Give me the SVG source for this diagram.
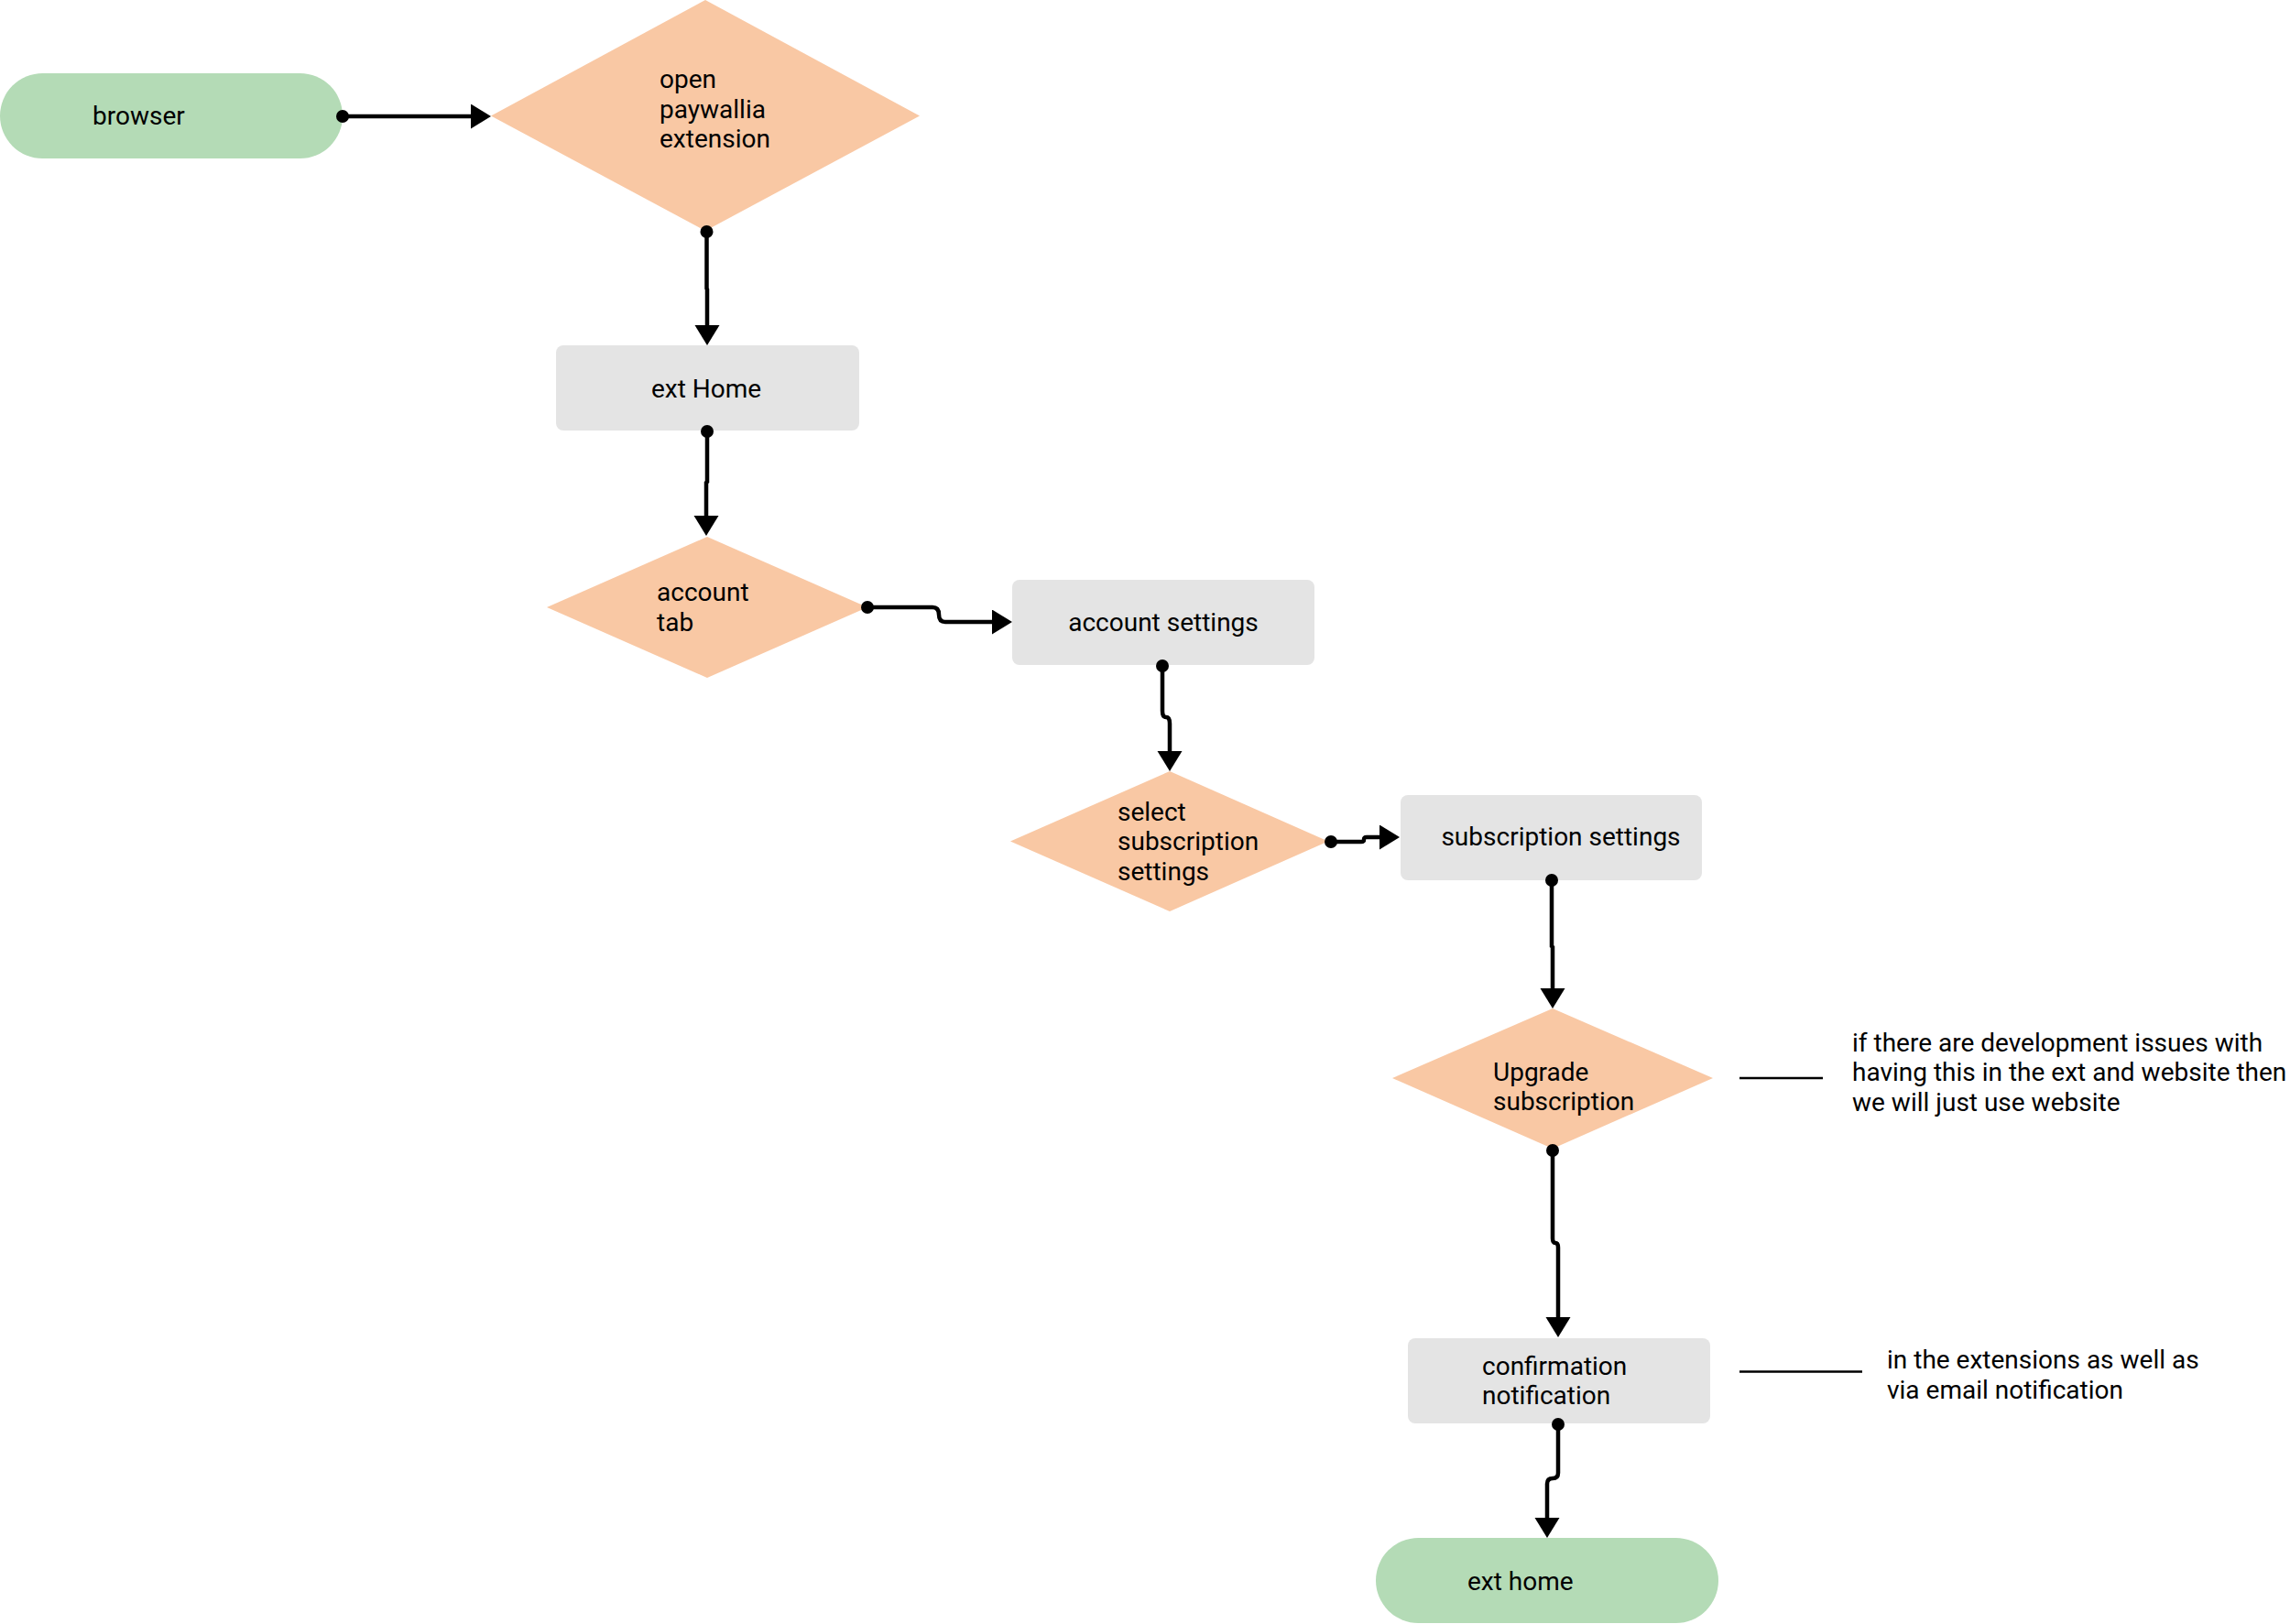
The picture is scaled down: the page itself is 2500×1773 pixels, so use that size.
<svg xmlns="http://www.w3.org/2000/svg" width="2500" height="1773" viewBox="0 0 2500 1773">
<style>
text{font-family:Roboto,"Liberation Sans",sans-serif;font-size:28px;fill:#000}
.c{text-anchor:middle}
.term{fill:#b4dbb6}
.dec{fill:#f9c8a4}
.proc{fill:#e4e4e4}
.conn{fill:none;stroke:#000;stroke-width:4.5;marker-start:url(#dot);marker-end:url(#arr)}
.note{stroke:#000;stroke-width:2.5}
</style>
<defs>
<marker id="arr" markerUnits="userSpaceOnUse" markerWidth="24" markerHeight="28" refX="2" refY="13.5" orient="auto">
<path d="M0,0 L22,13.5 L0,27 z" fill="#000"/>
</marker>
<marker id="dot" markerUnits="userSpaceOnUse" markerWidth="16" markerHeight="16" refX="8" refY="8" orient="auto">
<circle cx="8" cy="8" r="7" fill="#000"/>
</marker>
</defs>
<rect width="2500" height="1773" fill="#fff"/>

<g id="browser">
<rect class="term" x="0" y="80" width="374" height="93" rx="46.5"/>
<text x="101" y="136">browser</text>
</g>
<g id="open-paywallia">
<polygon class="dec" points="770,0 1004,126.5 770,252 536,126.5"/>
<text x="720" y="96">open</text>
<text x="720" y="128.5">paywallia</text>
<text x="720" y="161">extension</text>
</g>
<g id="ext-home-1">
<rect class="proc" x="607" y="377" width="331" height="93" rx="8"/>
<text class="c" x="771" y="434">ext Home</text>
</g>
<g id="account-tab">
<polygon class="dec" points="772,586 947,663 772,740 597,663"/>
<text x="717" y="656">account</text>
<text x="717" y="688.5">tab</text>
</g>
<g id="account-settings">
<rect class="proc" x="1105" y="633" width="330" height="93" rx="8"/>
<text class="c" x="1270" y="689">account settings</text>
</g>
<g id="select-subscription">
<polygon class="dec" points="1277,842 1450,918.5 1277,995 1103,918.5"/>
<text x="1220" y="895.5">select</text>
<text x="1220" y="928">subscription</text>
<text x="1220" y="960.5">settings</text>
</g>
<g id="subscription-settings">
<rect class="proc" x="1529" y="868" width="329" height="93" rx="8"/>
<text class="c" x="1704" y="922.5">subscription settings</text>
</g>
<g id="upgrade">
<polygon class="dec" points="1695,1101 1870,1177 1695,1254 1520,1177"/>
<text x="1630" y="1179.5">Upgrade</text>
<text x="1630" y="1212">subscription</text>
</g>
<g id="confirmation">
<rect class="proc" x="1537" y="1461" width="330" height="93" rx="8"/>
<text x="1618" y="1500.5">confirmation</text>
<text x="1618" y="1533">notification</text>
</g>
<g id="ext-home-2">
<rect class="term" x="1502" y="1679" width="374" height="93" rx="46.5"/>
<text x="1602" y="1735.5">ext home</text>
</g>
<g id="note-1">
<line class="note" x1="1899" y1="1177" x2="1990" y2="1177"/>
<text x="2022" y="1147.5">if there are development issues with</text>
<text x="2022" y="1180">having this in the ext and website then</text>
<text x="2022" y="1212.5">we will just use website</text>
</g>
<g id="note-2">
<line class="note" x1="1899" y1="1497.5" x2="2033" y2="1497.5"/>
<text x="2060" y="1494">in the extensions as well as</text>
<text x="2060" y="1526.5">via email notification</text>
</g>

<g id="connectors">
<path class="conn" d="M374,127 H516"/>
<path class="conn" d="M771.5,253 V315 L772,316 V357"/>
<path class="conn" d="M772,471 V526 L771,527 V565"/>
<path class="conn" d="M947,663 H1018 Q1025,663 1025,671 Q1025,679 1032,679 H1085"/>
<path class="conn" d="M1269,727 V776 Q1269,783 1273,783 Q1277,783 1277,790 V822"/>
<path class="conn" d="M1453,919 H1486 Q1489,919 1489,916.5 Q1489,914 1492,914 H1508"/>
<path class="conn" d="M1694,961 V1033 L1695,1034 V1081"/>
<path class="conn" d="M1695,1256 V1352 Q1695,1357 1698,1357 Q1701,1357 1701,1362 V1440"/>
<path class="conn" d="M1701,1555 V1608 Q1701,1614 1695,1614 Q1689,1614 1689,1620 V1659"/>
</g>
</svg>
